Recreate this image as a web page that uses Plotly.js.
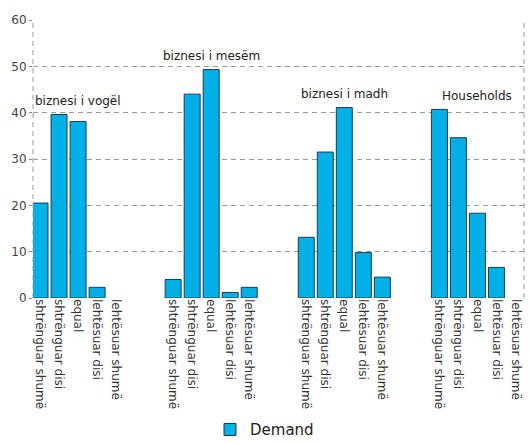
<!DOCTYPE html>
<html>
<head>
<meta charset="utf-8">
<script src="https://cdn.plot.ly/plotly-3.0.1.min.js"></script>
<style>
  html, body { margin: 0; padding: 0; background: #ffffff; }
  #chart { width: 529px; height: 443px; }
</style>
</head>
<body>
<div id="chart"></div>
<script>
// Response categories shown under each bar
const categories = ["shtrënguar shumë", "shtrënguar disi", "equal", "lehtësuar disi", "lehtësuar shumë"];

// Borrower groups, one block of bars each
const groups = ["biznesi i vogël", "biznesi i mesëm", "biznesi i madh", "Households"];

// Demand values per group (null = no bar)
const smallBusiness  = [20.5, 39.6, 38.1, 2.3, null];
const mediumBusiness = [4.0, 44.0, 49.3, 1.2, 2.3];
const largeBusiness  = [13.1, 31.5, 41.1, 9.8, 4.5];
const households     = [40.7, 34.6, 18.3, 6.6, null];

const seriesName = "Demand";
const yTicks = [0, 10, 20, 30, 40, 50, 60];

const groupValues = [smallBusiness, mediumBusiness, largeBusiness, households];
const gapSlots = 2;               // empty slots between groups
const stride = categories.length + gapSlots;

const xs = [], ys = [], tickvals = [], ticktext = [];
const annotations = [];
groupValues.forEach((vals, g) => {
  vals.forEach((v, i) => {
    const pos = g * stride + i;
    xs.push(pos);
    ys.push(v);
    tickvals.push(pos);
    ticktext.push(categories[i]);
  });
  const top = Math.max(...vals.filter(v => v !== null));
  annotations.push({
    x: g * stride + 2, y: top + 3, xref: "x", yref: "y",
    text: groups[g], showarrow: false,
    xanchor: "center", yanchor: "middle",
    font: { family: "DejaVu Sans", size: 12, color: "#222" }
  });
});

const trace = {
  type: "bar",
  name: seriesName,
  x: xs,
  y: ys,
  marker: { color: "#00b0e6", line: { color: "#1c3c4c", width: 1 } },
  showlegend: true,
  hoverinfo: "y"
};

const dashStyle = "5px,4px";
const layout = {
  width: 529, height: 443,
  margin: { l: 33, r: 5, t: 20, b: 145 },
  paper_bgcolor: "#ffffff",
  plot_bgcolor: "#ffffff",
  bargap: 0.16,
  font: { family: "DejaVu Sans", color: "#333" },
  xaxis: {
    range: [-0.37, 25.45],
    tickmode: "array",
    tickvals: tickvals,
    ticktext: ticktext,
    tickangle: 90,
    tickfont: { family: "DejaVu Sans", size: 12, color: "#333" },
    showgrid: false,
    zeroline: false,
    showline: false,
    ticks: ""
  },
  yaxis: {
    range: [0, 60],
    tickmode: "array",
    tickvals: yTicks,
    tickfont: { family: "DejaVu Sans", size: 12, color: "#444" },
    showgrid: true,
    gridcolor: "#9a9a9a",
    gridwidth: 1,
    griddash: dashStyle,
    zeroline: false,
    showline: false,
    ticks: "outside",
    ticklen: 3,
    tickcolor: "#888"
  },
  shapes: [
    { type: "line", xref: "paper", yref: "paper", x0: 0, x1: 0, y0: 0, y1: 1,
      line: { color: "#9a9a9a", width: 1, dash: dashStyle } },
    { type: "line", xref: "paper", yref: "paper", x0: 1, x1: 1, y0: 0, y1: 1,
      line: { color: "#9a9a9a", width: 1, dash: dashStyle } }
  ],
  annotations: annotations,
  showlegend: true,
  legend: {
    orientation: "h",
    xref: "container", yref: "container",
    x: 0.5, y: 0.03,
    xanchor: "center", yanchor: "middle",
    font: { family: "DejaVu Sans", size: 15, color: "#222" },
    bgcolor: "rgba(0,0,0,0)"
  }
};

Plotly.newPlot("chart", [trace], layout, { displayModeBar: false, staticPlot: true });
</script>
</body>
</html>
